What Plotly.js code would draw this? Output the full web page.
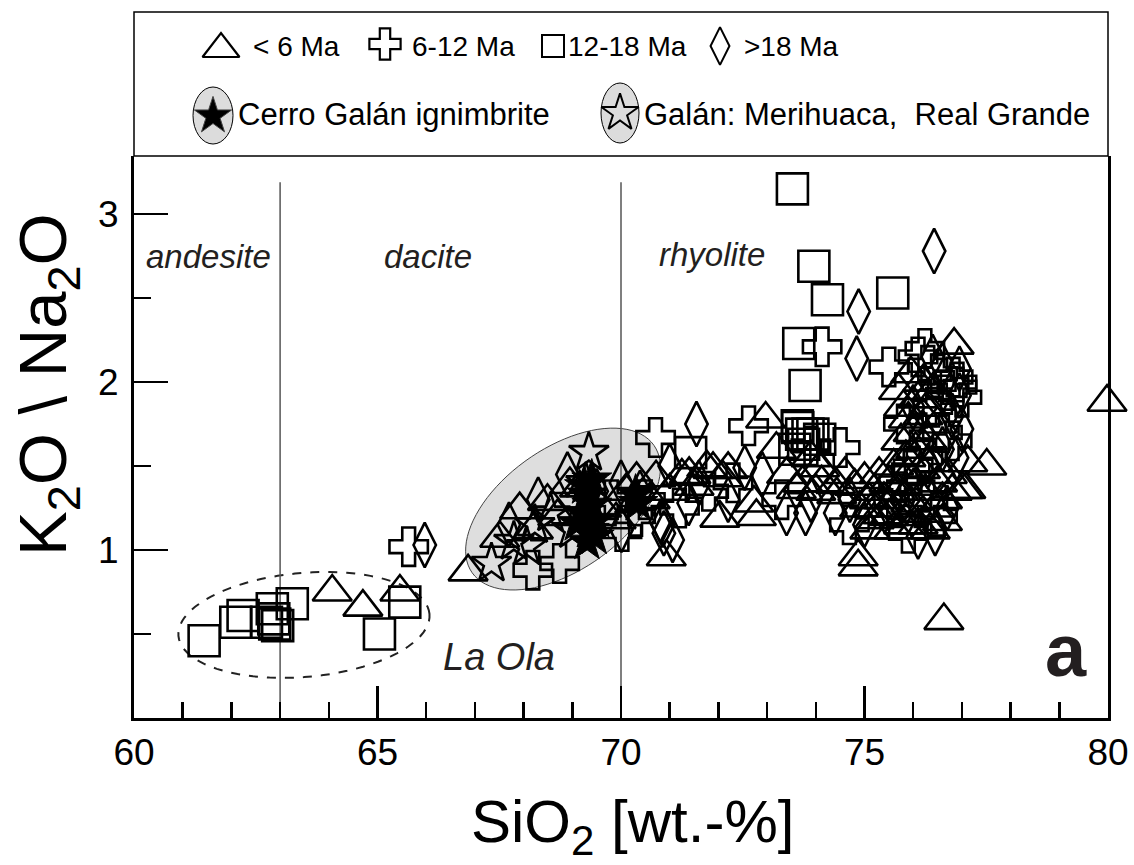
<!DOCTYPE html>
<html>
<head>
<meta charset="utf-8">
<script src="https://cdn.plot.ly/plotly-3.0.1.min.js"></script>
<style>html,body{margin:0;padding:0;background:#fff}#chart{width:1134px;height:865px}</style>
</head>
<body>
<div id="chart"></div>
<script>
// ---------------- DATA ----------------
// < 6 Ma (triangles)
const triX = [64.07,64.70,65.46,66.86,
  67.51,67.92,68.49,68.95,69.15,68.2,68.7,69.6,69.9,
  70.32,70.72,70.93,71.25,71.4,71.76,71.89,72.09,72.2,72.03,72.78,72.73,70.6,71.0,71.5,70.1,
  72.97,73.19,73.6,73.73,74.0,74.08,74.12,74.41,74.43,73.4,73.9,
  74.87,74.87,74.6,74.8,75.0,75.1,74.9,75.2,75.17,75.38,75.11,
  75.7,75.8,75.9,76.0,76.1,76.2,75.75,75.85,76.05,76.3,75.6,75.9,76.15,76.4,75.5,75.7,76.0,76.25,76.5,75.4,75.65,75.95,76.2,76.45,75.5,75.8,76.1,76.35,75.6,75.9,76.6,76.7,76.8,75.3,75.2,76.2,76.4,75.95,76.5,76.3,
  76.63,77.51,77.12,77.08,76.6,79.98,76.84,77.02];
const triY = [0.75,0.66,0.75,0.87,
  1.07,1.24,1.29,1.39,1.37,1.12,1.20,1.25,1.18,
  1.42,1.43,0.96,1.44,1.45,1.49,1.48,1.43,1.48,1.19,1.20,1.28,1.30,1.35,1.38,1.35,
  1.78,1.60,1.36,1.40,1.35,1.49,1.40,1.39,1.33,1.45,1.55,
  0.90,0.96,1.45,1.38,1.42,1.30,1.25,1.18,1.25,1.21,1.12,
  1.95,1.85,1.78,1.70,1.90,1.80,1.65,1.55,1.60,1.65,1.50,1.45,1.48,1.52,1.40,1.35,1.38,1.35,1.40,1.30,1.25,1.28,1.22,1.25,1.20,1.15,1.15,1.12,1.12,1.20,1.30,1.45,1.35,1.45,1.35,2.00,1.95,2.05,1.75,1.85,
  0.58,1.50,1.52,1.36,1.17,1.88,2.22,1.36];

// 6-12 Ma (crosses)
const crsX = [65.64,68.19,68.74,70.71,72.62,74.13,75.50,76.24,76.82,77.0,76.9,74.69,70.02,73.9,74.5,
  70.5,71.2,71.8,72.3,73.3,69.8,70.3,
  76.1,76.3,76.5,76.7,76.4,76.6,76.2,75.8,76.0,75.7,76.3,75.6,76.5,75.9,76.8,76.9];
const crsY = [1.02,0.88,0.92,1.67,1.74,2.21,2.09,2.20,2.03,1.91,1.97,1.15,1.11,1.62,1.61,
  1.30,1.25,1.35,1.40,1.30,1.30,1.20,
  2.15,2.10,2.05,1.95,1.85,1.70,1.55,1.75,1.50,1.40,1.30,1.30,1.20,1.10,1.65,2.00];

// 12-18 Ma (squares)
const sqX = [61.44,62.09,62.24,62.84,62.72,62.87,62.95,62.89,63.25,65.04,65.56,
  73.52,73.96,74.24,75.58,73.65,73.78,73.62,73.84,74.08,73.63,73.71,73.94,73.57,71.43,73.75];
const sqY = [0.46,0.57,0.61,0.65,0.57,0.59,0.55,0.56,0.68,0.50,0.69,
  3.15,2.69,2.49,2.53,2.23,1.98,1.74,1.69,1.66,1.73,1.69,1.69,1.60,1.58,1.63];

// >18 Ma (diamonds)
const dmX = [65.97,76.43,74.88,74.84,71.55,72.54,73.79,71.39,70.88,70.86,70.39,70.01,70.82,71.06,68.9,69.5,70.0,71.0,71.6,72.2,72.9,73.4,73.9,67.7,68.3,74.7,75.0,74.4,
  76.4,76.6,76.95,76.95,76.8,76.6,76.3,76.0,75.8,76.1,76.45,75.5,76.7,76.2,77.0,76.9];
const dmY = [1.03,2.78,2.42,2.14,1.75,1.49,1.22,1.28,1.10,1.15,1.34,1.12,1.17,1.06,1.45,1.35,1.40,1.50,1.40,1.30,1.45,1.22,1.30,1.15,1.30,1.30,1.15,1.22,
  2.15,2.10,2.08,1.92,1.80,1.60,1.50,1.85,1.30,1.08,1.10,1.25,1.25,1.70,1.72,1.55];

// Galán: Merihuaca, Real Grande (open stars)
const galX = [67.34,68.06,68.23,69.28,69.34,67.8,68.55,69.0];
const galY = [0.92,1.02,1.15,1.40,1.58,1.05,1.22,1.12];

// Cerro Galán ignimbrite (filled stars)
const cgX = [69.3,69.35,69.2,69.4,69.3,69.5,69.1,69.45,69.25,70.35,70.3,69.4];
const cgY = [1.05,1.12,1.22,1.27,1.33,1.18,1.16,1.08,1.38,1.28,1.33,1.42];

// axis ticks / labels
const xTicks = [60,65,70,75,80];
const yTicks = [1,2,3];
const yMinor = [0.5,1.5,2.5];
const boundaries = [63,70];
const fields = [{t:'andesite',x:61.53,y:2.75},{t:'dacite',x:66.03,y:2.745},{t:'rhyolite',x:71.87,y:2.757}];

// ---------------- LAYOUT HELPERS ----------------
const W=1134,H=865,L=134,R=26,T=12,B=147;
const plotW=W-L-R, plotH=H-T-B;
const yTopPx=156;
const yDomTop=(H-B-yTopPx)/plotH;
const xr=[60,80], yr=[0,3.346];
const kx=plotW/(xr[1]-xr[0]);
const ky=(H-B-yTopPx)/(yr[1]-yr[0]);

function ellipsePath(cx,cy,a,b,angDeg,n){
  n=n||90; const p=angDeg*Math.PI/180; const pts=[];
  for(let i=0;i<n;i++){const t=2*Math.PI*i/n;
    const dx=a*Math.cos(t)*Math.cos(p)-b*Math.sin(t)*Math.sin(p);
    const dy=a*Math.cos(t)*Math.sin(p)+b*Math.sin(t)*Math.cos(p);
    pts.push((cx+dx/kx).toFixed(4)+','+(cy+dy/ky).toFixed(4));}
  return 'M '+pts.join(' L ')+' Z';
}

const LW=2.6;
function mk(x,y,sym,size,extra){
  return Object.assign({type:'scatter',mode:'markers',x:x,y:y,cliponaxis:false,hoverinfo:'x+y',
    marker:{symbol:sym,size:size,color:'black',line:{width:LW,color:'black'}}},extra||{});
}
const traces=[
  mk(triX,triY,'triangle-up-open',34,{name:'< 6 Ma'}),
  mk(crsX,crsY,'cross-open',32,{name:'6-12 Ma'}),
  mk(dmX,dmY,'diamond-tall-open',32,{name:'>18 Ma'}),
  mk(sqX,sqY,'square-open',31,{name:'12-18 Ma'}),
  mk(galX,galY,'star-open',30,{name:'Galán: Merihuaca, Real Grande'}),
  {type:'scatter',mode:'markers',x:cgX,y:cgY,cliponaxis:false,name:'Cerro Galán ignimbrite',
    marker:{symbol:'star',size:30,color:'black',line:{width:1,color:'black'}}},
  // legend symbols (overlay axes in pixel units)
  {type:'scatter',mode:'markers',xaxis:'x2',yaxis:'y2',hoverinfo:'skip',x:[221],y:[49],
    marker:{symbol:'triangle-up-open',size:32,color:'black',line:{width:2.2}}},
  {type:'scatter',mode:'markers',xaxis:'x2',yaxis:'y2',hoverinfo:'skip',x:[385],y:[44],
    marker:{symbol:'cross-open',size:26,color:'black',line:{width:2.2}}},
  {type:'scatter',mode:'markers',xaxis:'x2',yaxis:'y2',hoverinfo:'skip',x:[553],y:[46],
    marker:{symbol:'square-open',size:22,color:'black',line:{width:2}}},
  {type:'scatter',mode:'markers',xaxis:'x2',yaxis:'y2',hoverinfo:'skip',x:[720],y:[46],
    marker:{symbol:'diamond-tall-open',size:27,color:'black',line:{width:2}}},
  {type:'scatter',mode:'markers',xaxis:'x2',yaxis:'y2',hoverinfo:'skip',x:[213],y:[116],
    marker:{symbol:'star',size:28,color:'black',line:{width:1}}},
  {type:'scatter',mode:'markers',xaxis:'x2',yaxis:'y2',hoverinfo:'skip',x:[620],y:[113],
    marker:{symbol:'star-open',size:28,color:'black',line:{width:2}}}
];

const FONT='Liberation Sans, Arial, sans-serif';
const shapes=[
  {type:'path',xref:'x',yref:'y',layer:'below',path:ellipsePath(68.81,1.244,111,61,35),
   fillcolor:'#dedede',line:{color:'#444',width:1}},
  {type:'path',xref:'x',yref:'y',layer:'below',path:ellipsePath(63.49,0.554,126,52,5),
   fillcolor:'rgba(0,0,0,0)',line:{color:'#222',width:2,dash:'dash'}},
  // legend frame
  {type:'rect',xref:'paper',yref:'paper',x0:0,x1:1,y0:yDomTop,y1:1,line:{color:'black',width:1.5}},
  // legend ellipses
  {type:'circle',xref:'x2',yref:'y2',x0:193,x1:233,y0:87,y1:144,fillcolor:'#dcdcdc',line:{color:'black',width:1},layer:'below'},
  {type:'circle',xref:'x2',yref:'y2',x0:601,x1:639,y0:83,y1:143,fillcolor:'#dcdcdc',line:{color:'black',width:1},layer:'below'}
];
boundaries.forEach(b=>shapes.push({type:'line',xref:'x',yref:'y',layer:'below',x0:b,x1:b,y0:0,y1:3.19,line:{color:'#555',width:1.5}}));

const annotations=[];
fields.forEach(f=>annotations.push({xref:'x',yref:'y',x:f.x,y:f.y,text:'<i>'+f.t+'</i>',showarrow:false,
  font:{family:FONT,size:33,color:'#231f20'},xanchor:'center',yanchor:'middle'}));
annotations.push({xref:'x',yref:'y',x:67.49,y:0.363,text:'<i>La Ola</i>',showarrow:false,font:{family:FONT,size:38,color:'#231f20'}});
annotations.push({xref:'x',yref:'y',x:79.14,y:0.40,text:'<b>a</b>',showarrow:false,font:{family:FONT,size:74,color:'#231f20'}});
// axis titles
annotations.push({xref:'paper',yref:'paper',x:(632-L)/plotW,y:(H-B-826)/plotH,text:'SiO<sub>2</sub> [wt.-%]',showarrow:false,
  font:{family:FONT,size:60,color:'black'},xanchor:'center',yanchor:'middle'});
annotations.push({xref:'paper',yref:'paper',x:(47-L)/plotW,y:(H-B-385)/plotH,text:'K<sub>2</sub>O \\ Na<sub>2</sub>O',showarrow:false,textangle:-90,
  font:{family:FONT,size:67,color:'black'},xanchor:'center',yanchor:'middle'});
// legend texts
const lg1=[{t:'< 6 Ma',x:251},{t:'6-12 Ma',x:410},{t:'12-18 Ma',x:566},{t:'>18 Ma',x:742}];
lg1.forEach(o=>annotations.push({xref:'x2',yref:'y2',x:o.x,y:46,text:o.t,showarrow:false,xanchor:'left',yanchor:'middle',
  font:{family:FONT,size:28,color:'black'}}));
const lg2=[{t:'Cerro Galán ignimbrite',x:236},{t:'Galán: Merihuaca,\u00a0 Real Grande',x:642}];
lg2.forEach(o=>annotations.push({xref:'x2',yref:'y2',x:o.x,y:114,text:o.t,showarrow:false,xanchor:'left',yanchor:'middle',
  font:{family:FONT,size:31,color:'black'}}));

const layout={
  width:W,height:H,margin:{l:L,r:R,t:T,b:B},paper_bgcolor:'white',plot_bgcolor:'white',showlegend:false,
  font:{family:FONT,color:'black'},
  xaxis:{range:xr,domain:[0,1],showgrid:false,zeroline:false,showline:true,linewidth:3,linecolor:'black',
    ticks:'inside',ticklen:32,tickwidth:2.5,tickcolor:'black',tickvals:xTicks,ticktext:xTicks.map(String),
    tickfont:{family:FONT,size:37},ticklabelstandoff:0,
    minor:{ticks:'inside',ticklen:16,tickwidth:2.5,tickcolor:'black',dtick:1,tick0:60,showgrid:false}},
  yaxis:{range:yr,domain:[0,yDomTop],showgrid:false,zeroline:false,showline:true,linewidth:3,linecolor:'black',mirror:true,
    ticks:'inside',ticklen:34,tickwidth:2.5,tickcolor:'black',tickvals:yTicks,ticktext:yTicks.map(String),
    tickfont:{family:FONT,size:37},ticklabelstandoff:5,
    minor:{ticks:'inside',ticklen:17,tickwidth:2.5,tickcolor:'black',tickvals:yMinor,showgrid:false}},
  xaxis2:{domain:[0,1],range:[L,W-R],visible:false,fixedrange:true,anchor:'y2'},
  yaxis2:{domain:[yDomTop,1],range:[yTopPx,T],visible:false,fixedrange:true,anchor:'x2'},
  shapes:shapes,annotations:annotations
};
Plotly.newPlot('chart',traces,layout,{displayModeBar:false,staticPlot:true});
</script>
</body>
</html>
